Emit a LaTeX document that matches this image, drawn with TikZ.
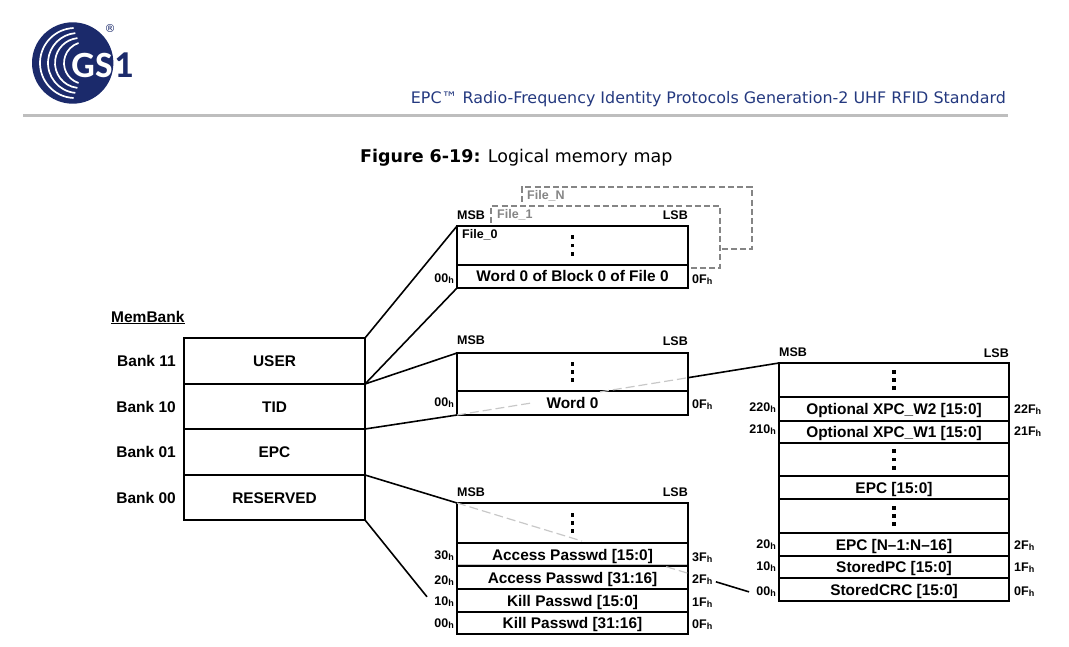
\documentclass[tikz,border=0pt]{standalone}
\usepackage{fontspec}
\setmainfont{Liberation Sans}
\newfontfamily\hdrfont{DejaVu Sans}
\newfontfamily\logofont{Carlito}
\usetikzlibrary{calc}
\definecolor{navy}{HTML}{1B2A6B}
\definecolor{hdrblue}{HTML}{24397F}
\definecolor{rulegray}{HTML}{BEBEBE}
\definecolor{ghost}{HTML}{C8C8C8}
\definecolor{filegray}{HTML}{858585}
\newcommand{\hsub}{\raisebox{-1pt}{\fontsize{9}{9}\selectfont h}}
\newcommand{\vdotsq}{\vbox{\offinterlineskip\hbox{\rule{3.4pt}{3.8pt}}\kern4.4pt\hbox{\rule{3.4pt}{3.8pt}}\kern4.4pt\hbox{\rule{3.4pt}{3.8pt}}}}
\tikzset{
  cellbox/.style={draw=black,line width=2.6pt,inner sep=0pt,outer sep=0pt,align=center,font=\fontsize{15.4}{15.4}\selectfont\bfseries},
  celltext/.style={cellbox,text height=12pt,text depth=1pt},
  conn/.style={draw=black,line width=1.6pt},
  ghostline/.style={draw=ghost,line width=1.2pt,dash pattern=on 9pt off 4pt},
  filedash/.style={draw=filegray,line width=1.5pt,dash pattern=on 6pt off 3.2pt},
  addrl/.style={anchor=east,inner sep=0pt,font=\fontsize{12.5}{12.5}\selectfont\bfseries},
  addrr/.style={anchor=west,inner sep=0pt,font=\fontsize{12.5}{12.5}\selectfont\bfseries},
  msb/.style={anchor=west,inner sep=0pt,font=\fontsize{12.5}{12.5}\selectfont\bfseries},
  lsb/.style={anchor=east,inner sep=0pt,font=\fontsize{12.5}{12.5}\selectfont\bfseries},
  bank/.style={anchor=east,inner sep=0pt,font=\fontsize{15.5}{15.5}\selectfont\bfseries},
  filelbl/.style={anchor=west,inner sep=0pt,font=\fontsize{12.5}{12.5}\selectfont\bfseries},
  arcline/.style={white,line width=1.7pt,line cap=round},
}
\newcommand{\cell}[6]{\node[celltext,minimum width={(#4-#2)*1pt},minimum height={(#5-#3)*1pt}] (#1) at ({(#2+#4)/2},{(#3+#5)/2}) {#6};}
\newcommand{\dcell}[5]{\node[cellbox,minimum width={(#4-#2)*1pt},minimum height={(#5-#3)*1pt}] (#1) at ({(#2+#4)/2},{(#3+#5)/2}) {\vdotsq};}
\begin{document}
\begin{tikzpicture}[x=1pt,y=-1pt]
\useasboundingbox (0,0) rectangle (1069,647);
% logo
\fill[navy] (72.7,63) circle (40.7);
\draw[arcline] (75,63) ++(93:35) arc (93:267:35);
\draw[arcline] (78,63) ++(96:30) arc (96:264:30);
\draw[arcline] (80,63) ++(97:25) arc (97:263:25);
\draw[arcline] (85,63) ++(109:21) arc (109:251:21);
\node[inner sep=0pt,anchor=center,text=white,font=\logofont\bfseries\fontsize{37}{37}\selectfont] (gs) at (92,65) {GS};
\node[inner sep=0pt,anchor=center,text=navy,font=\logofont\bfseries\fontsize{38}{38}\selectfont] (one) at (124.5,65) {1};
\node[inner sep=0pt,text=navy,font=\hdrfont\fontsize{11}{11}\selectfont] (reg) at (110,29) {®};
% header
\node[anchor=base east,inner sep=0pt,text=hdrblue,font=\hdrfont\fontsize{15.9}{16}\selectfont] (hdr) at (1006,104) {EPC™ Radio-Frequency Identity Protocols Generation-2 UHF RFID Standard};
\fill[rulegray] (23,114) rectangle (1008,117);
\node[anchor=base west,inner sep=0pt,font=\hdrfont\fontsize{17.5}{17.5}\selectfont] (title) at (360,162.5) {\textbf{Figure 6-19:} Logical memory map};
% dashed files
\coordinate (fnA) at (522,202);
\coordinate (fnB) at (720,249);
\draw[filedash] (fnA) |- (752,187) |- (fnB);
\coordinate (f1A) at (491,223);
\coordinate (f1B) at (688,268);
\draw[filedash] (f1A) |- (720,206) |- (f1B);
\node[filelbl,text=filegray] (fileN) at (527,196) {File\_N};
\node[filelbl,text=filegray] (fileOne) at (497,215) {File\_1};
% memory bank
\node[anchor=west,inner sep=0pt,font=\fontsize{15.5}{15.5}\selectfont\bfseries] (membank) at (111,317) {MemBank};
\draw[line width=1.2pt] ($(membank.south west)+(0,0.5)$) -- ($(membank.south east)+(0,0.5)$);
\cell{user}{184}{338}{365}{384}{USER}
\cell{tid}{184}{384}{365}{429}{TID}
\cell{epcb}{184}{429}{365}{475}{EPC}
\cell{res}{184}{475}{365}{520}{RESERVED}
\node[bank] (b11) at (176,361) {Bank 11};
\node[bank] (b10) at (176,407) {Bank 10};
\node[bank] (b01) at (176,452) {Bank 01};
\node[bank] (b00) at (176,498) {Bank 00};
% user memory
\dcell{uA}{457}{226}{688}{265}
\cell{uB}{457}{265}{688}{288}{Word 0 of Block 0 of File 0}
\node[filelbl] (fileZero) at (462,235) {File\_0};
\node[msb] (m1) at (457,215) {MSB};
\node[lsb] (l1) at (688,215) {LSB};
\node[addrl] (a1) at (454,279) {00\hsub};
\node[addrr] (r1) at (692,280) {0F\hsub};
% tid memory
\dcell{tA}{457}{353}{688}{391}
\cell{tB}{457}{391}{688}{415}{Word 0}
\node[msb] (m2) at (457,340) {MSB};
\node[lsb] (l2) at (688,341) {LSB};
\node[addrl] (a2) at (454,403) {00\hsub};
\node[addrr] (r2) at (692,405) {0F\hsub};
% reserved memory
\dcell{pA}{457}{503}{688}{543}
\cell{pB}{457}{543}{688}{566}{Access Passwd [15:0]}
\cell{pC}{457}{566}{688}{589}{Access Passwd [31:16]}
\cell{pD}{457}{589}{688}{612}{Kill Passwd [15:0]}
\cell{pE}{457}{612}{688}{634}{Kill Passwd [31:16]}
\draw[draw=ghost,line width=1pt] ($(pB.south west)+(1.3,-2)$) -- ($(pB.south east)+(-1.3,-2)$);
\node[msb] (m3) at (457,492) {MSB};
\node[lsb] (l3) at (688,492) {LSB};
\node[addrl] (a3a) at (454,556) {30\hsub};
\node[addrl] (a3b) at (454,581) {20\hsub};
\node[addrl] (a3c) at (454,602) {10\hsub};
\node[addrl] (a3d) at (454,624) {00\hsub};
\node[addrr] (r3a) at (692,558) {3F\hsub};
\node[addrr] (r3b) at (692,580) {2F\hsub};
\node[addrr] (r3c) at (692,603) {1F\hsub};
\node[addrr] (r3d) at (692,625) {0F\hsub};
% epc memory
\dcell{eA}{779}{363}{1009}{397}
\cell{eB}{779}{397}{1009}{421}{Optional XPC\_W2 [15:0]}
\cell{eC}{779}{421}{1009}{443}{Optional XPC\_W1 [15:0]}
\dcell{eD}{779}{443}{1009}{476}
\cell{eE}{779}{476}{1009}{499}{EPC [15:0]}
\dcell{eF}{779}{499}{1009}{533}
\cell{eG}{779}{533}{1009}{556}{EPC [N–1:N–16]}
\cell{eH}{779}{556}{1009}{578}{StoredPC [15:0]}
\cell{eI}{779}{578}{1009}{601}{StoredCRC [15:0]}
\node[msb] (m4) at (779,352) {MSB};
\node[lsb] (l4) at (1009,353) {LSB};
\node[addrl] (a4a) at (776,408) {220\hsub};
\node[addrl] (a4b) at (776,430) {210\hsub};
\node[addrl] (a4c) at (776,545) {20\hsub};
\node[addrl] (a4d) at (776,567) {10\hsub};
\node[addrl] (a4e) at (776,592) {00\hsub};
\node[addrr] (r4a) at (1014,410) {22F\hsub};
\node[addrr] (r4b) at (1014,432) {21F\hsub};
\node[addrr] (r4c) at (1014,546) {2F\hsub};
\node[addrr] (r4d) at (1014,568) {1F\hsub};
\node[addrr] (r4e) at (1014,592) {0F\hsub};
% connectors
\draw[conn] (user.north east) -- (uA.north west);
\draw[conn] (user.south east) -- (uB.south west);
\draw[conn] (tid.north east) -- (tA.north west);
\draw[conn] (tid.south east) -- (tB.south west);
\draw[conn] (res.north east) -- (pA.north west);
\draw[conn,shorten >=47.8pt] (res.south east) -- (pE.south west);
\draw[ghostline] (tB.south west) -- ($(tB.south west)!0.227!(eA.north west)$);
\draw[ghostline] ($(tB.south west)!0.444!(eA.north west)$) -- ($(tB.south west)!0.717!(eA.north west)$);
\draw[conn] ($(tB.south west)!0.717!(eA.north west)$) -- (eA.north west);
\draw[ghostline] (pA.north west) -- ($(pA.north west)!0.388!(eI.south west)$);
\draw[ghostline] ($(pA.north west)!0.65!(eI.south west)$) -- ($(pA.north west)!0.717!(eI.south west)$);
\draw[conn] ($(pA.north west)!0.804!(eI.south west)$) -- ($(pA.north west)!0.907!(eI.south west)$);
\end{tikzpicture}
\end{document}
